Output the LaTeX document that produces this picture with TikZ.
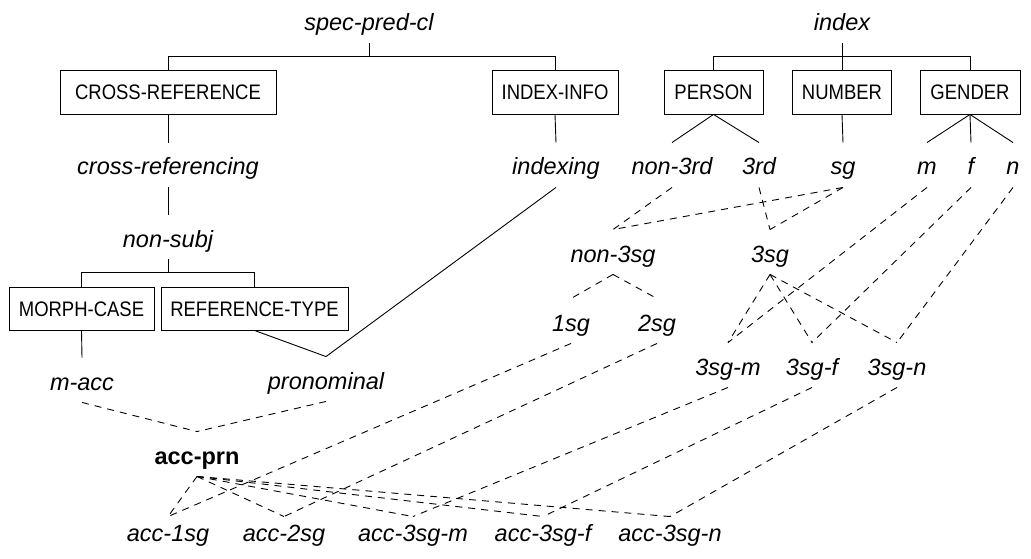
\documentclass[tikz,border=0pt]{standalone}
\usepackage{fontspec}
\setmainfont{Liberation Sans}
\newfontfamily\boxfont[FakeStretch=0.88]{Liberation Sans}
\begin{document}
\begin{tikzpicture}[x=1pt,y=-1pt,line width=0.9pt,
  lab/.style={font=\fontsize{23.5}{28}\selectfont\itshape, anchor=base,
    text height=25pt, text depth=5pt, inner ysep=7pt, inner xsep=0pt},
  labb/.style={lab, font=\fontsize{23.5}{28}\selectfont\bfseries},
  leaf/.style={lab, text height=17pt},
  typebox/.style={draw, font=\fontsize{21}{24}\boxfont, minimum height=44pt,
    text height=15pt, text depth=0pt, inner xsep=0pt},
  sub/.style={dash pattern=on 7pt off 6pt}]
\useasboundingbox (0,0) rectangle (1031,559);

% --- spec-pred-cl hierarchy ---
\node[lab] (spc) at (369,31) {spec-pred-cl};
\node[typebox, minimum width=216pt] (xref) at (168,92) {CROSS-REFERENCE};
\node[typebox, minimum width=126pt] (iinfo) at (555,92) {INDEX-INFO};
\coordinate (spcbar) at (369,56);
\node[lab] (crossref) at (168,175) {cross-referencing};
\node[lab] (indexing) at (556,175) {indexing};
\node[lab] (nonsubj) at (168,247) {non-subj};
\coordinate (nsbar) at (168,272);
\node[typebox, minimum width=145pt, minimum height=43pt] (morph) at (81.5,308.5) {MORPH-CASE};
\node[typebox, minimum width=187pt, minimum height=43pt] (reftype) at (254.5,308.5) {REFERENCE-TYPE};
\node[lab] (macc) at (82,390) {m-acc};
\node[lab] (pronom) at (326,389) {pronominal};

% --- index hierarchy ---
\node[lab] (idx) at (842,31) {index};
\coordinate (idxbar) at (842,56);
\node[typebox, minimum width=99pt] (person) at (713.5,92) {PERSON};
\node[typebox, minimum width=99pt] (number) at (842,92) {NUMBER};
\node[typebox, minimum width=100pt] (gender) at (970,92) {GENDER};
\node[lab] (non3rd) at (672,175) {non-3rd};
\node[lab] (third) at (759,175) {3rd};
\node[lab] (sg) at (843,175) {sg};
\node[lab] (gm) at (927,175) {m};
\node[lab] (gf) at (971,175) {f};
\node[lab] (gn) at (1013,175) {n};
\node[lab] (non3sg) at (613,262) {non-3sg};
\node[lab] (sg3) at (770,262) {3sg};
\node[lab] (sg1) at (571,331) {1sg};
\node[lab] (sg2) at (657,331) {2sg};
\node[lab] (sgm) at (728,375) {3sg-m};
\node[lab] (sgf) at (812,375) {3sg-f};
\node[lab] (sgn) at (897,375) {3sg-n};

% --- cross-classified types ---
\node[labb] (accprn) at (197,464) {acc-prn};
\node[leaf] (acc1) at (168,541) {acc-1sg};
\node[leaf] (acc2) at (284,541) {acc-2sg};
\node[leaf] (acc3m) at (413,541) {acc-3sg-m};
\node[leaf] (acc3f) at (543,541) {acc-3sg-f};
\node[leaf] (acc3n) at (670,541) {acc-3sg-n};

% solid: feature declarations and their value types
\draw (spc.south) -- (spcbar);
\draw (spcbar) -| (xref.north);
\draw (spcbar) -| (iinfo.north);
\draw (xref.south) -- (crossref.north);
\draw (crossref.south) -- (nonsubj.north);
\draw (nonsubj.south) -- (nsbar);
\draw (nsbar) -| (morph.north);
\draw (nsbar) -| (reftype.north);
\draw (morph.south) -- (macc.north);
\draw (reftype.south) -- (pronom.north);
\draw (iinfo.south) -- (indexing.north);
\draw (indexing.south) -- (pronom.north);
\draw (idx.south) -- (idxbar);
\draw (idxbar) -| (person.north);
\draw (idxbar) -- (number.north);
\draw (idxbar) -| (gender.north);
\draw (person.south) -- (non3rd.north);
\draw (person.south) -- (third.north);
\draw (number.south) -- (sg.north);
\draw (gender.south) -- (gm.north);
\draw (gender.south) -- (gf.north);
\draw (gender.south) -- (gn.north);

% dashed: subtype links
\draw[sub] (non3rd.south) -- (non3sg.north);
\draw[sub] (sg.south) -- (non3sg.north);
\draw[sub] (third.south) -- (sg3.north);
\draw[sub] (sg.south) -- (sg3.north);
\draw[sub] (non3sg.south) -- (sg1.north);
\draw[sub] (non3sg.south) -- (sg2.north);
\draw[sub] (sg3.south) -- (sgm.north);
\draw[sub] (sg3.south) -- (sgf.north);
\draw[sub] (sg3.south) -- (sgn.north);
\draw[sub] (gm.south) -- (sgm.north);
\draw[sub] (gf.south) -- (sgf.north);
\draw[sub] (gn.south) -- (sgn.north);
\draw[sub] (macc.south) -- (accprn.north);
\draw[sub] (pronom.south) -- (accprn.north);
\draw[sub] (accprn.south) -- (acc1.north);
\draw[sub] (accprn.south) -- (acc2.north);
\draw[sub] (accprn.south) -- (acc3m.north);
\draw[sub] (accprn.south) -- (acc3f.north);
\draw[sub] (accprn.south) -- (acc3n.north);
\draw[sub] (sg1.south) -- (acc1.north);
\draw[sub] (sg2.south) -- (acc2.north);
\draw[sub] (sgm.south) -- (acc3m.north);
\draw[sub] (sgf.south) -- (acc3f.north);
\draw[sub] (sgn.south) -- (acc3n.north);
\end{tikzpicture}
\end{document}
